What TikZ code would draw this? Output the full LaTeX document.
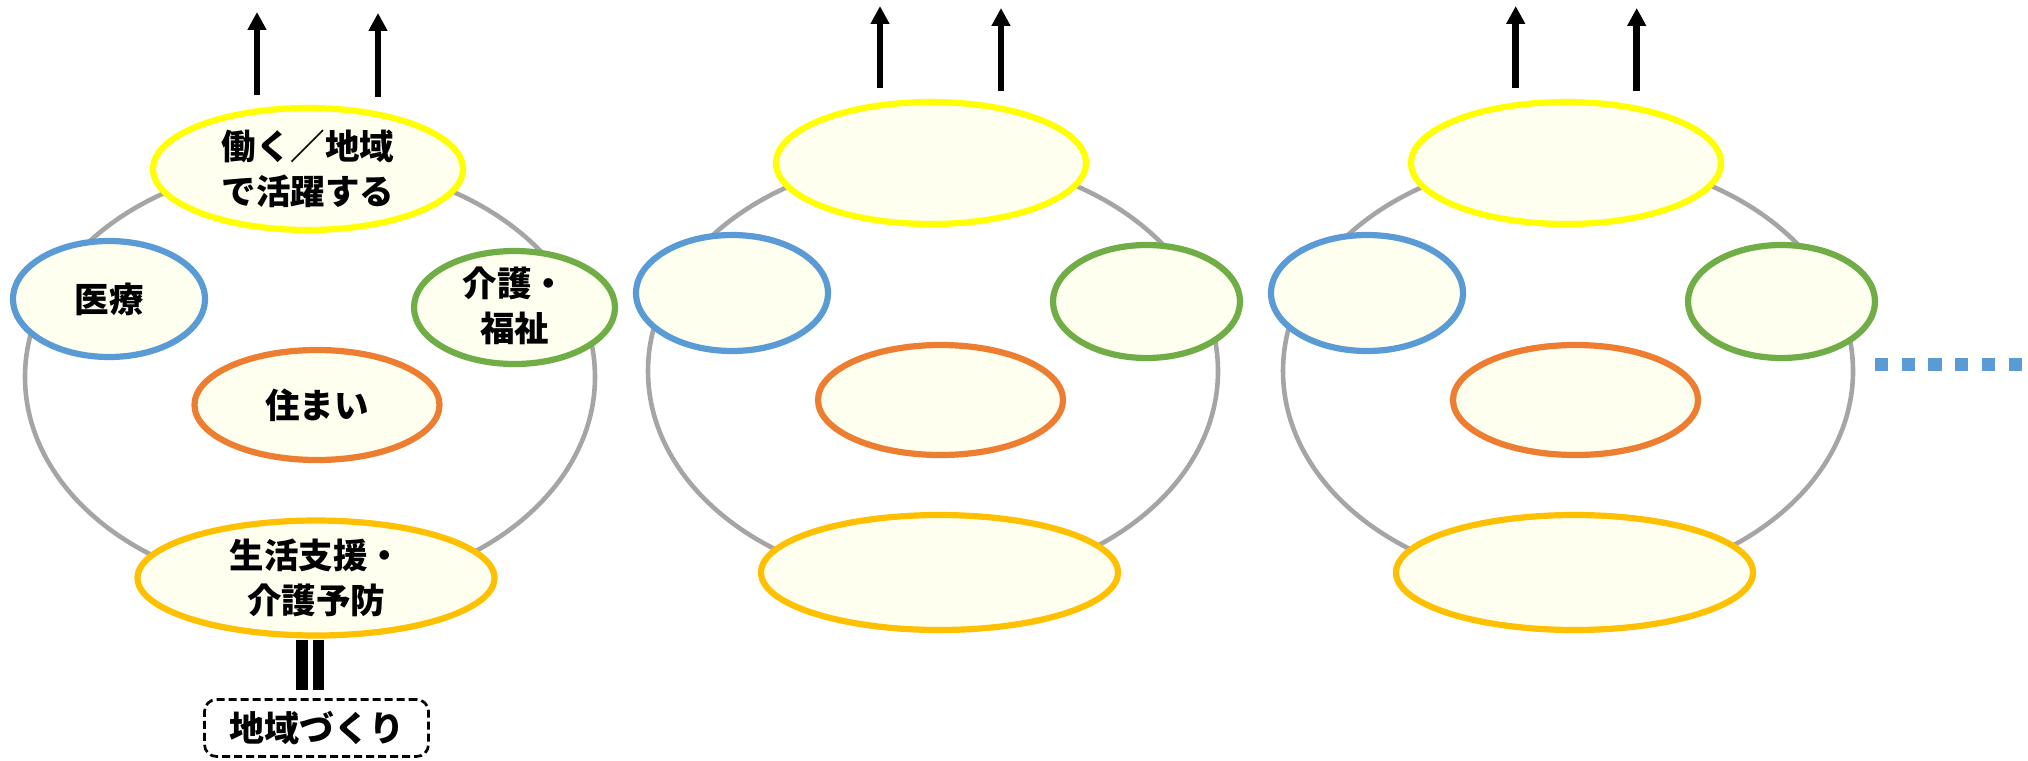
\documentclass[tikz,border=0pt]{standalone}
\usepackage{fontspec}
\newfontfamily\jpfont{Noto Sans CJK JP}
\usetikzlibrary{shapes.geometric,arrows.meta}
\definecolor{cYel}{HTML}{FFFF00}
\definecolor{cBlue}{HTML}{5B9BD5}
\definecolor{cGreen}{HTML}{70AD47}
\definecolor{cOrange}{HTML}{ED7D31}
\definecolor{cGold}{HTML}{FFC000}
\definecolor{cGray}{HTML}{A5A5A5}
\definecolor{cFill}{HTML}{FEFFEE}
\tikzset{
  bub/.style={ellipse, draw, line width=6.2pt, fill=cFill, inner sep=0pt, outer sep=0pt},
  topb/.style={bub, draw=cYel, minimum width=310pt, minimum height=122pt},
  blub/.style={bub, draw=cBlue, minimum width=192pt, minimum height=116pt},
  grnb/.style={bub, draw=cGreen, minimum width=187pt, minimum height=113pt},
  orab/.style={bub, draw=cOrange, minimum width=245pt, minimum height=110pt},
  golb/.style={bub, draw=cGold, minimum width=357pt, minimum height=115pt},
  ring/.style={ellipse, draw=cGray, line width=4.6pt, inner sep=0pt, outer sep=0pt,
    minimum width=570pt, minimum height=428pt},
  lbl/.style={font=\jpfont\bfseries\fontsize{34.5pt}{45pt}\selectfont, align=center, inner sep=0pt},
  uparr/.style={line width=6.5pt, -{Triangle[width=18pt,length=18pt]}},
  barline/.style={line width=11.5pt, black},
  dzbox/.style={draw, dashed, dash pattern=on 8pt off 4pt, line width=2.7pt, rounded corners=12pt,
    minimum width=224pt, minimum height=57pt, inner sep=0pt, outer sep=0pt,
    font=\jpfont\bfseries\fontsize{35pt}{42pt}\selectfont},
  dotline/.style={line width=13pt, cBlue, dash pattern=on 13.3pt off 13.4pt}
}
\begin{document}
\begin{tikzpicture}[x=1pt,y=-1pt]
\useasboundingbox (0,0) rectangle (2028,760);
% ---------- group 1 ----------
\node[ring] (r1) at (310,377) {};
\node[topb] (y1) at (308,169) {};
\node[blub] (b1) at (109,299) {};
\node[grnb, minimum width=201pt] (gr1) at (514.5,307.5) {};
\node[orab] (o1) at (317,405) {};
\node[golb] (g1) at (316,578) {};
\node[lbl] (ty1) at (y1.center) {働く／地域\\で活躍する};
\node[lbl] (tb1) at (b1.center) {医療};
\node[lbl] (tgr1) at ([yshift=2pt]gr1.center) {介護・\\福祉};
\node[lbl] (to1) at (o1.center) {住まい};
\node[lbl] (tg1) at (g1.center) {生活支援・\\介護予防};
\coordinate (a1s) at (257,95);  \coordinate (a1e) at (257,12);
\coordinate (a2s) at (378,97);  \coordinate (a2e) at (378,13);
\draw[uparr] (a1s) -- (a1e);
\draw[uparr] (a2s) -- (a2e);
\node[dzbox] (dz) at (316.5,728) {地域づくり};
\draw[barline] ([xshift=-14pt,yshift=-4.5pt]g1.south) -- ([xshift=-14.5pt,yshift=9.5pt]dz.north);
\draw[barline] ([xshift=2.5pt,yshift=-4.5pt]g1.south) -- ([xshift=2pt,yshift=9.5pt]dz.north);
% ---------- group 2 ----------
\node[ring] (r2) at (933,371) {};
\node[topb] (y2) at (931,163) {};
\node[blub] (b2) at (732,293) {};
\node[grnb] (gr2) at (1146.5,301.5) {};
\node[orab] (o2) at (940.5,400) {};
\node[golb] (g2) at (939.5,572.5) {};
\coordinate (a3s) at (880,88);  \coordinate (a3e) at (880,6);
\coordinate (a4s) at (1001,91); \coordinate (a4e) at (1001,8);
\draw[uparr] (a3s) -- (a3e);
\draw[uparr] (a4s) -- (a4e);
% ---------- group 3 ----------
\node[ring] (r3) at (1568,371) {};
\node[topb] (y3) at (1566,163) {};
\node[blub] (b3) at (1367,293) {};
\node[grnb] (gr3) at (1781.5,301.5) {};
\node[orab] (o3) at (1575.5,400) {};
\node[golb] (g3) at (1574.5,572.5) {};
\coordinate (a5s) at (1515.7,88);  \coordinate (a5e) at (1515.7,6);
\coordinate (a6s) at (1636.7,91);  \coordinate (a6e) at (1636.7,8);
\draw[uparr] (a5s) -- (a5e);
\draw[uparr] (a6s) -- (a6e);
% ---------- continuation dots ----------
\coordinate (d0) at (1875,364.5);
\coordinate (d1) at (2022,364.5);
\draw[dotline] (d0) -- (d1);
\end{tikzpicture}
\end{document}
